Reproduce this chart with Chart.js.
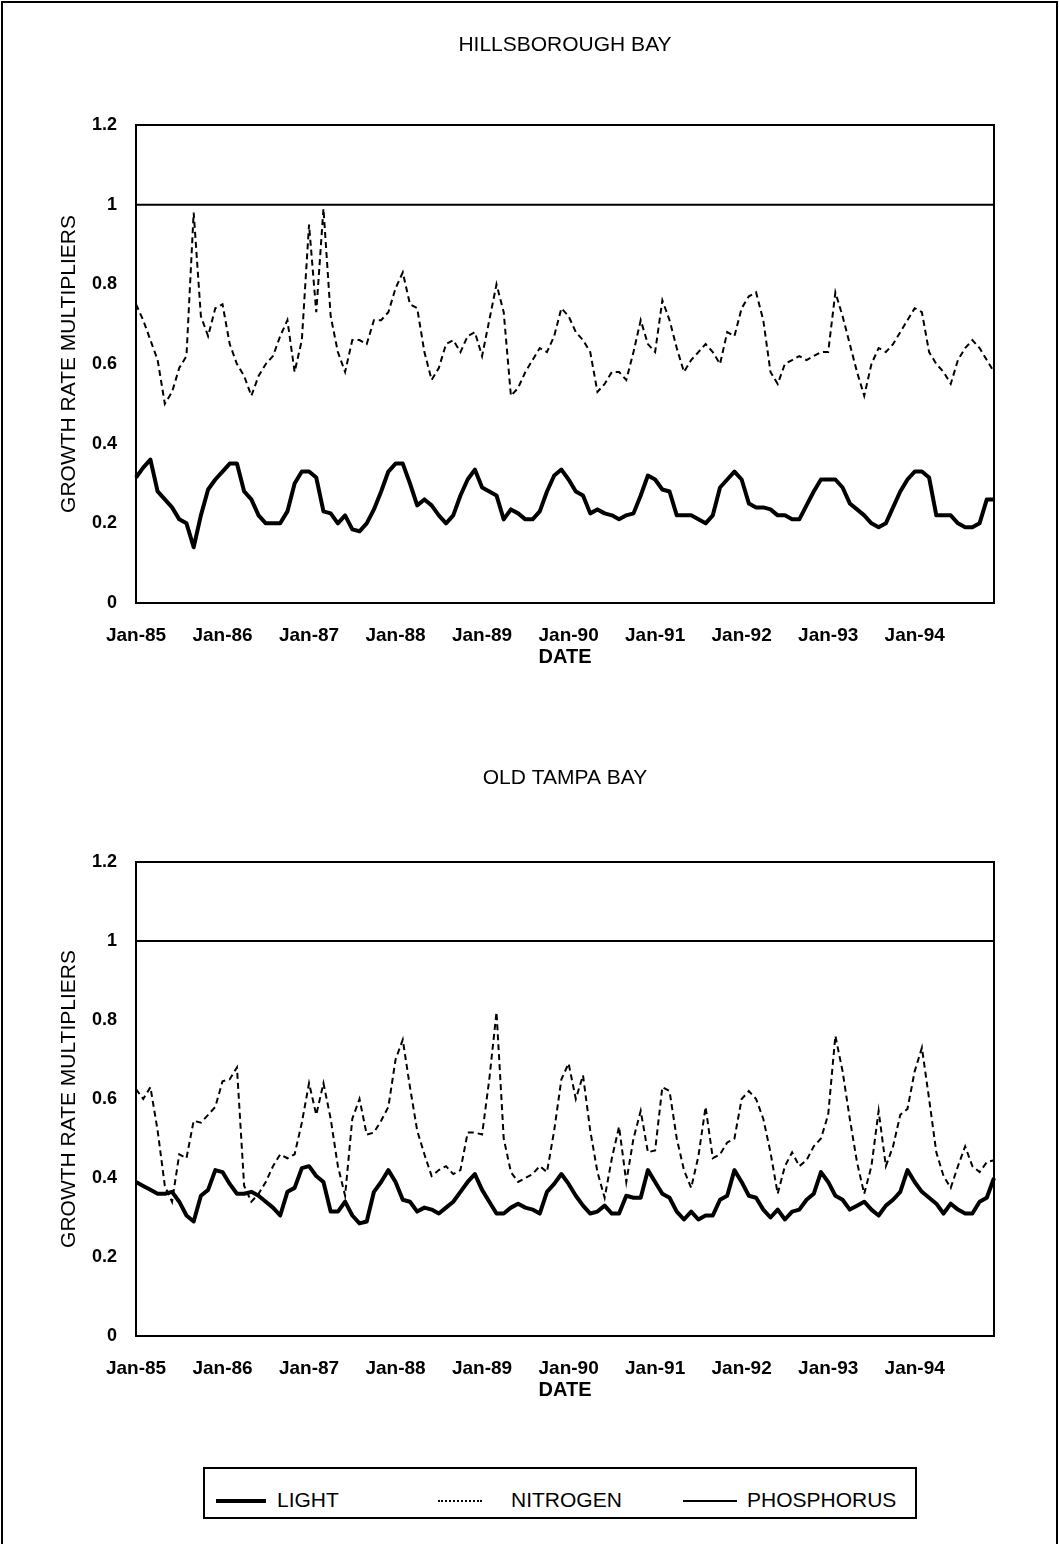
<!DOCTYPE html>
<html>
<head>
<meta charset="utf-8">
<script src="https://cdn.jsdelivr.net/npm/chart.js@4.4.1/dist/chart.umd.min.js"></script>
<style>
  body { margin: 0; background: #fff; font-family: "Liberation Sans", Arial, sans-serif; }
  #page { position: relative; width: 1059px; height: 1544px; overflow: hidden; }
  #frame { position: absolute; left: 1px; top: 1px; width: 1053px; height: 1600px; border: 2px solid #000; }
  .chartBox { position: absolute; left: 0; width: 1059px; height: 680px; }
  #legendBox { position: absolute; left: 203px; top: 1467px; width: 710px; height: 48px; border: 2px solid #000; }
  .key { position: absolute; top: 1500px; border-top: 2px solid #000; }
  .keyText { position: absolute; top: 1488px; font-size: 21px; color: #000; line-height: 24px; }
</style>
</head>
<body>
<div id="page">
  <div id="frame"></div>
  <div class="chartBox" style="top:0"><canvas id="hillsboroughChart"></canvas></div>
  <div class="chartBox" style="top:733px"><canvas id="oldTampaChart"></canvas></div>
  <div id="legendBox"></div>
  <div class="key" style="left:216px;width:50px;border-top-width:4px;top:1499px"></div>
  <div class="keyText" style="left:277px">LIGHT</div>
  <div class="key" style="left:438px;width:44px;border-top-style:dotted"></div>
  <div class="keyText" style="left:511px">NITROGEN</div>
  <div class="key" style="left:683px;width:54px"></div>
  <div class="keyText" style="left:747px">PHOSPHORUS</div>
</div>
<script>
const years = ['85', '86', '87', '88', '89', '90', '91', '92', '93', '94'];
const monthNames = ['Jan', 'Feb', 'Mar', 'Apr', 'May', 'Jun', 'Jul', 'Aug', 'Sep', 'Oct', 'Nov', 'Dec'];

// Hillsborough Bay, monthly Jan-85 .. Dec-94
const lightHB = [
    0.315, 0.34, 0.36, 0.28, 0.26, 0.24, 0.21, 0.20, 0.14, 0.22,
    0.285, 0.31, 0.33, 0.35, 0.35, 0.28, 0.26, 0.22, 0.20, 0.20,
    0.20, 0.23, 0.30, 0.33, 0.33, 0.315, 0.23, 0.225, 0.20, 0.22,
    0.185, 0.18, 0.20, 0.235, 0.28, 0.33, 0.35, 0.35, 0.30, 0.245,
    0.26, 0.245, 0.22, 0.20, 0.22, 0.27, 0.31, 0.335, 0.29, 0.28,
    0.27, 0.21, 0.235, 0.225, 0.21, 0.21, 0.23, 0.28, 0.32, 0.335,
    0.31, 0.28, 0.27, 0.225, 0.235, 0.225, 0.22, 0.21, 0.22, 0.225,
    0.27, 0.32, 0.31, 0.285, 0.28, 0.22, 0.22, 0.22, 0.21, 0.20,
    0.22, 0.29, 0.31, 0.33, 0.31, 0.25, 0.24, 0.24, 0.235, 0.22,
    0.22, 0.21, 0.21, 0.245, 0.28, 0.31, 0.31, 0.31, 0.29, 0.25,
    0.235, 0.22, 0.20, 0.19, 0.20, 0.24, 0.28, 0.31, 0.33, 0.33,
    0.315, 0.22, 0.22, 0.22, 0.20, 0.19, 0.19, 0.20, 0.26, 0.26
];
const nitrogenHB = [
    0.75, 0.71, 0.66, 0.61, 0.50, 0.53, 0.59, 0.62, 0.98, 0.72,
    0.67, 0.74, 0.75, 0.65, 0.60, 0.57, 0.52, 0.57, 0.60, 0.62,
    0.67, 0.71, 0.58, 0.66, 0.95, 0.73, 0.99, 0.72, 0.63, 0.58,
    0.66, 0.66, 0.65, 0.71, 0.71, 0.73, 0.79, 0.83, 0.75, 0.74,
    0.63, 0.56, 0.59, 0.65, 0.66, 0.63, 0.67, 0.68, 0.62, 0.71,
    0.80, 0.73, 0.52, 0.54, 0.58, 0.61, 0.64, 0.63, 0.67, 0.74,
    0.72, 0.68, 0.66, 0.63, 0.53, 0.55, 0.58, 0.58, 0.56, 0.63,
    0.71, 0.65, 0.63, 0.76, 0.71, 0.64, 0.58, 0.61, 0.63, 0.65,
    0.63, 0.60, 0.68, 0.67, 0.74, 0.77, 0.78, 0.71, 0.58, 0.55,
    0.60, 0.61, 0.62, 0.61, 0.62, 0.63, 0.63, 0.78, 0.72, 0.65,
    0.58, 0.52, 0.60, 0.64, 0.63, 0.65, 0.68, 0.71, 0.74, 0.73,
    0.63, 0.60, 0.58, 0.55, 0.61, 0.64, 0.66, 0.64, 0.61, 0.58
];

// Old Tampa Bay
const lightOTB = [
    0.39, 0.38, 0.37, 0.36, 0.36, 0.365, 0.34, 0.305, 0.29, 0.355,
    0.37, 0.42, 0.415, 0.385, 0.36, 0.36, 0.365, 0.355, 0.34, 0.325,
    0.305, 0.365, 0.375, 0.425, 0.43, 0.405, 0.39, 0.315, 0.315, 0.34,
    0.305, 0.285, 0.29, 0.365, 0.39, 0.42, 0.39, 0.345, 0.34, 0.315,
    0.325, 0.32, 0.31, 0.325, 0.34, 0.365, 0.39, 0.41, 0.37, 0.34,
    0.31, 0.31, 0.325, 0.335, 0.325, 0.32, 0.31, 0.365, 0.385, 0.41,
    0.385, 0.355, 0.33, 0.31, 0.315, 0.33, 0.31, 0.31, 0.355, 0.35,
    0.35, 0.42, 0.39, 0.36, 0.35, 0.315, 0.295, 0.315, 0.295, 0.305,
    0.305, 0.345, 0.355, 0.42, 0.39, 0.355, 0.35, 0.32, 0.30, 0.32,
    0.295, 0.315, 0.32, 0.345, 0.36, 0.415, 0.39, 0.355, 0.345, 0.32,
    0.33, 0.34, 0.32, 0.305, 0.33, 0.345, 0.365, 0.42, 0.39, 0.365,
    0.35, 0.335, 0.31, 0.335, 0.32, 0.31, 0.31, 0.34, 0.35, 0.40
];
const nitrogenOTB = [
    0.625, 0.60, 0.63, 0.52, 0.38, 0.34, 0.46, 0.45, 0.545, 0.54,
    0.56, 0.58, 0.645, 0.65, 0.68, 0.38, 0.34, 0.36, 0.39, 0.43,
    0.46, 0.45, 0.46, 0.54, 0.64, 0.56, 0.64, 0.55, 0.43, 0.355,
    0.55, 0.60, 0.51, 0.515, 0.545, 0.58, 0.70, 0.75, 0.63, 0.52,
    0.46, 0.405, 0.42, 0.43, 0.41, 0.42, 0.515, 0.515, 0.51, 0.65,
    0.82, 0.50, 0.415, 0.39, 0.40, 0.41, 0.43, 0.415, 0.52, 0.65,
    0.69, 0.60, 0.66, 0.52, 0.415, 0.35, 0.45, 0.53, 0.39, 0.50,
    0.57, 0.465, 0.47, 0.63, 0.62, 0.50, 0.42, 0.375, 0.455, 0.58,
    0.45, 0.46, 0.49, 0.50, 0.60, 0.62, 0.60, 0.55, 0.465, 0.36,
    0.43, 0.465, 0.43, 0.445, 0.48, 0.50, 0.56, 0.76, 0.67, 0.55,
    0.44, 0.36, 0.43, 0.57, 0.43, 0.48, 0.56, 0.575, 0.67, 0.73,
    0.60, 0.465, 0.405, 0.375, 0.43, 0.48, 0.43, 0.415, 0.44, 0.445
];

// phosphorus multiplier sits at 1 in both bays
const phosphorus = [
    1, 1, 1, 1, 1, 1, 1, 1, 1, 1, 1, 1,
    1, 1, 1, 1, 1, 1, 1, 1, 1, 1, 1, 1,
    1, 1, 1, 1, 1, 1, 1, 1, 1, 1, 1, 1,
    1, 1, 1, 1, 1, 1, 1, 1, 1, 1, 1, 1,
    1, 1, 1, 1, 1, 1, 1, 1, 1, 1, 1, 1,
    1, 1, 1, 1, 1, 1, 1, 1, 1, 1, 1, 1,
    1, 1, 1, 1, 1, 1, 1, 1, 1, 1, 1, 1,
    1, 1, 1, 1, 1, 1, 1, 1, 1, 1, 1, 1,
    1, 1, 1, 1, 1, 1, 1, 1, 1, 1, 1, 1,
    1, 1, 1, 1, 1, 1, 1, 1, 1, 1, 1, 1
];

const months = [];
years.forEach(yr => monthNames.forEach(m => months.push(m + '-' + yr)));

const family = '"Liberation Sans", Arial, sans-serif';

// box around the plot area, and the bay name centred over it
const plotFrame = {
    id: 'plotFrame',
    afterDatasetsDraw(chart, args, opts) {
        const {ctx, chartArea} = chart;
        ctx.save();
        ctx.strokeStyle = '#000';
        ctx.lineWidth = 2;
        ctx.strokeRect(chartArea.left, chartArea.top, chartArea.right - chartArea.left, chartArea.bottom - chartArea.top);
        ctx.fillStyle = '#000';
        ctx.font = '21px ' + family;
        ctx.textAlign = 'center';
        ctx.textBaseline = 'middle';
        ctx.fillText(opts.text, (chartArea.left + chartArea.right) / 2, 45);
        ctx.restore();
    }
};

function makeChart(canvasId, titleText, light, nitrogen, topPad) {
    const ctx = document.getElementById(canvasId).getContext('2d');
    return new Chart(ctx, {
        type: 'line',
        data: {
            labels: months,
            datasets: [
                { label: 'LIGHT', data: light, borderColor: '#000', borderWidth: 4, pointRadius: 0, tension: 0, borderJoinStyle: 'round' },
                { label: 'NITROGEN', data: nitrogen, borderColor: '#000', borderWidth: 2, borderDash: [6, 4], pointRadius: 0, tension: 0 },
                { label: 'PHOSPHORUS', data: phosphorus, borderColor: '#000', borderWidth: 2, pointRadius: 0, tension: 0 }
            ]
        },
        options: {
            responsive: true,
            maintainAspectRatio: false,
            animation: false,
            layout: { padding: { left: 0, right: 65, top: topPad, bottom: 0 } },
            plugins: {
                legend: { display: false },
                tooltip: { enabled: false },
                plotFrame: { text: titleText }
            },
            scales: {
                x: {
                    type: 'category',
                    grid: { display: false },
                    border: { display: true, color: '#000', width: 2 },
                    ticks: {
                        autoSkip: false,
                        maxRotation: 0,
                        padding: 13,
                        color: '#000',
                        font: { family: family, size: 19, weight: 'bold' },
                        callback: (val, i) => i % 12 === 0 ? months[i] : ''
                    },
                    title: {
                        display: true,
                        text: 'DATE',
                        color: '#000',
                        font: { family: family, size: 20, weight: 'bold' },
                        padding: { top: 0, bottom: 11 }
                    },
                    afterFit: scale => { scale.height = 77; }
                },
                y: {
                    min: 0,
                    max: 1.2,
                    grid: { display: false },
                    border: { display: true, color: '#000', width: 2 },
                    ticks: {
                        stepSize: 0.2,
                        padding: 11,
                        color: '#000',
                        font: { family: family, size: 18, weight: 'bold' },
                        callback: v => +v.toFixed(1)
                    },
                    title: {
                        display: true,
                        text: 'GROWTH RATE MULTIPLIERS',
                        color: '#000',
                        font: { family: family, size: 21, weight: 'normal' },
                        padding: { top: 57, bottom: 0 }
                    },
                    afterFit: scale => { scale.width = 136; }
                }
            }
        },
        plugins: [plotFrame]
    });
}

makeChart('hillsboroughChart', 'HILLSBOROUGH BAY', lightHB, nitrogenHB, 125);
makeChart('oldTampaChart', 'OLD TAMPA BAY', lightOTB, nitrogenOTB, 129);
</script>
</body>
</html>
